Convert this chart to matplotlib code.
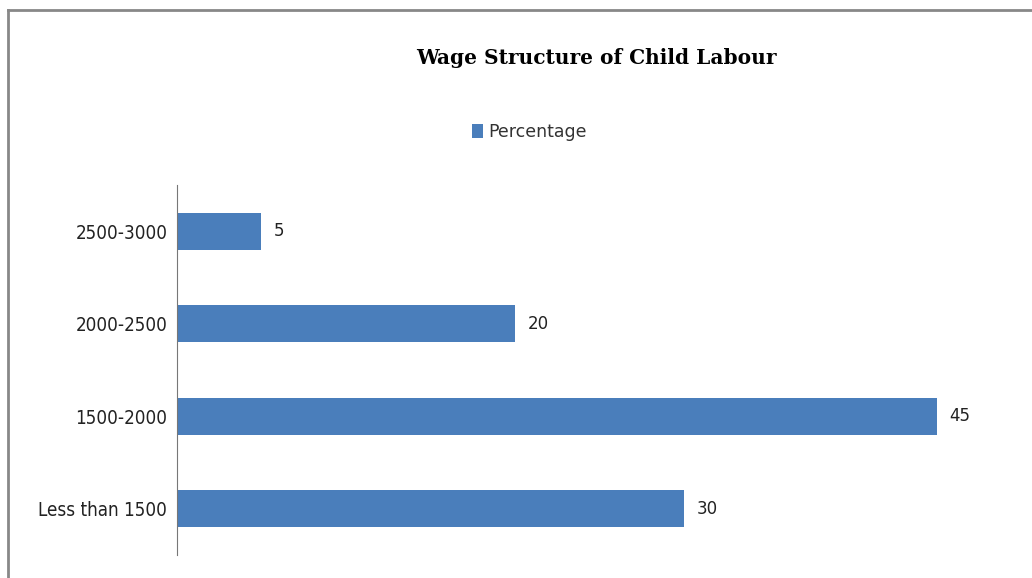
import matplotlib.pyplot as plt
from matplotlib.lines import Line2D
from matplotlib.patches import Patch

categories = ["Less than 1500", "1500-2000", "2000-2500", "2500-3000"]
percentage = [30, 45, 20, 5]

bar_color = "#4a7ebb"

fig = plt.figure(figsize=(10.32, 5.78), dpi=100)
ax = fig.add_axes([0.1715, 0.040, 0.8185, 0.640])

bars = ax.barh(categories, percentage, height=0.4, color=bar_color)
ax.bar_label(bars, labels=[str(v) for v in percentage], padding=9,
             fontsize=12, color="#222222")

ax.set_xlim(0, 50)
ax.set_ylim(-0.5, 3.5)
ax.set_xticks([])
for side in ["top", "right", "bottom"]:
    ax.spines[side].set_visible(False)
ax.spines["left"].set_color("#777777")
ax.tick_params(axis="y", length=0, pad=7, labelsize=13.5, labelcolor="#222222")
for lbl in ax.get_yticklabels():
    lbl.set_fontstretch("condensed")

fig.text(0.578, 0.90, "Wage Structure of Child Labour", ha="center", va="center",
         fontsize=14.5, fontweight="bold", family="DejaVu Serif")

handle = Patch(facecolor=bar_color)
fig.legend([handle], ["Percentage"], loc="center", bbox_to_anchor=(0.513, 0.772),
           frameon=False, fontsize=12.5, handlelength=0.6, handleheight=0.9,
           handletextpad=0.3, labelcolor="#333333")

# outer frame: only top and left edges
fig.add_artist(Line2D([0.008, 1.0], [0.983, 0.983], color="#888888", lw=2,
                      transform=fig.transFigure))
fig.add_artist(Line2D([0.008, 0.008], [0.0, 0.983], color="#888888", lw=2,
                      transform=fig.transFigure))

fig.savefig("out.png", dpi=100)
